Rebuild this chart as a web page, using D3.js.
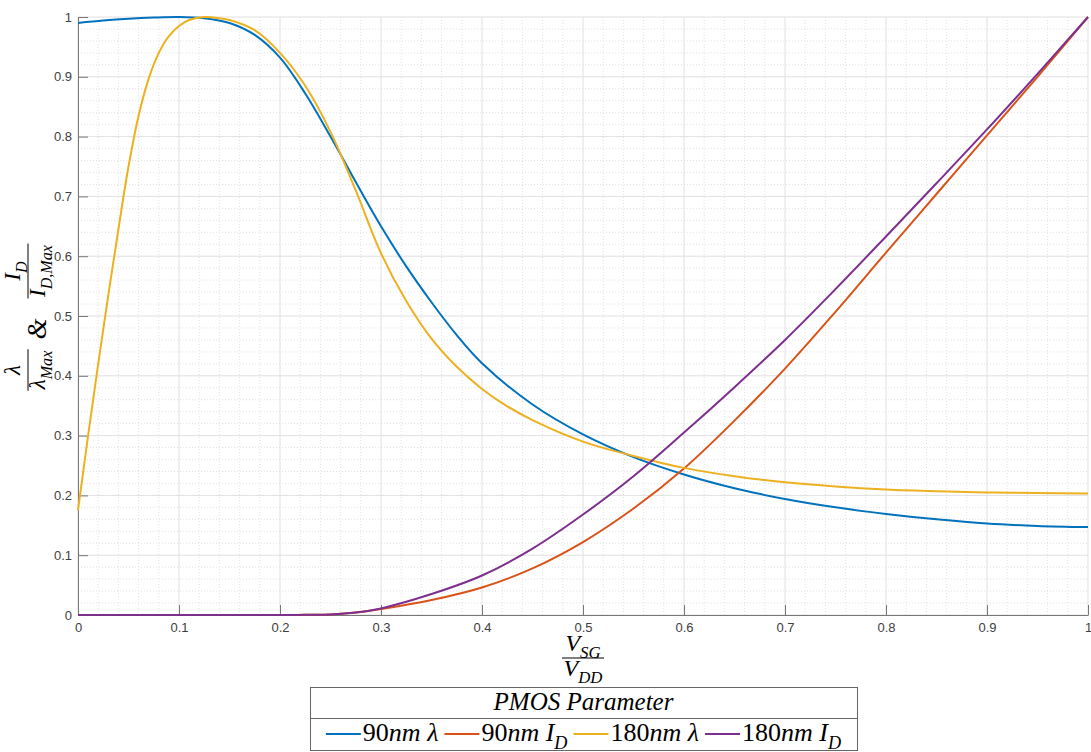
<!doctype html>
<html lang="en">
<head>
<meta charset="utf-8">
<title>PMOS Parameter</title>
<script src="https://cdn.jsdelivr.net/npm/d3@7"></script>
<style>
  body { margin: 0; background: #fff; }
  .tick text { font: 13px "Liberation Sans", Arial, sans-serif; fill: #404040; }
  .math { font-family: "Liberation Serif", "DejaVu Serif", serif; fill: #000; }
</style>
</head>
<body>
<svg width="1091" height="752"></svg>
<script>
// tick values
var xTicks = [0, 0.1, 0.2, 0.3, 0.4, 0.5, 0.6, 0.7, 0.8, 0.9, 1];
var yTicks = [0, 0.1, 0.2, 0.3, 0.4, 0.5, 0.6, 0.7, 0.8, 0.9, 1];

// 90nm lambda (normalised)
var x90L = [0, 0.025, 0.05, 0.075, 0.1, 0.125, 0.15, 0.175, 0.2, 0.225, 0.25, 0.275, 0.3, 0.325, 0.35, 0.375, 0.4, 0.45, 0.5, 0.55, 0.6, 0.65, 0.7, 0.75, 0.8, 0.85, 0.9, 0.95, 1];
var y90L = [0.99, 0.994, 0.997, 0.999, 1.0, 0.998, 0.99, 0.97, 0.932, 0.872, 0.80, 0.724, 0.65, 0.583, 0.523, 0.468, 0.421, 0.352, 0.302, 0.264, 0.235, 0.212, 0.194, 0.180, 0.169, 0.160, 0.153, 0.149, 0.147];

// 180nm lambda (normalised)
var x180L = [0, 0.01, 0.02, 0.03, 0.04, 0.05, 0.06, 0.07, 0.08, 0.09, 0.1, 0.11, 0.125, 0.14, 0.15, 0.175, 0.2, 0.225, 0.25, 0.275, 0.3, 0.325, 0.35, 0.375, 0.4, 0.425, 0.45, 0.5, 0.55, 0.6, 0.65, 0.7, 0.75, 0.8, 0.85, 0.9, 0.95, 1];
var y180L = [0.175, 0.30, 0.42, 0.535, 0.645, 0.75, 0.835, 0.897, 0.94, 0.968, 0.985, 0.995, 1.0, 0.998, 0.995, 0.978, 0.94, 0.885, 0.808, 0.71, 0.605, 0.525, 0.462, 0.415, 0.378, 0.349, 0.326, 0.29, 0.266, 0.246, 0.232, 0.222, 0.215, 0.210, 0.207, 0.205, 0.204, 0.203];

// 90nm drain current (normalised)
var x90I = [0, 0.1, 0.2, 0.225, 0.25, 0.275, 0.3, 0.35, 0.4, 0.45, 0.5, 0.55, 0.6, 0.65, 0.7, 0.75, 0.8, 0.85, 0.9, 0.95, 1];
var y90I = [0, 0, 0, 0.0003, 0.001, 0.004, 0.01, 0.025, 0.046, 0.078, 0.122, 0.178, 0.245, 0.325, 0.412, 0.507, 0.606, 0.704, 0.802, 0.90, 1.0];

// 180nm drain current (normalised)
var x180I = [0, 0.1, 0.2, 0.225, 0.25, 0.275, 0.3, 0.35, 0.4, 0.45, 0.5, 0.55, 0.6, 0.65, 0.7, 0.75, 0.8, 0.85, 0.9, 0.95, 1];
var y180I = [0, 0, 0, 0.0003, 0.001, 0.004, 0.011, 0.035, 0.066, 0.111, 0.168, 0.232, 0.305, 0.381, 0.460, 0.545, 0.633, 0.722, 0.812, 0.905, 1.0];

var series = [
  { name: [["90", "r"], ["nm", "i"], [" \u03bb", "i"]], color: "#0072BD", xs: x90L, ys: y90L },
  { name: [["90", "r"], ["nm", "i"], [" I", "i"], ["D", "s"]], color: "#D95319", xs: x90I, ys: y90I },
  { name: [["180", "r"], ["nm", "i"], [" \u03bb", "i"]], color: "#EDB120", xs: x180L, ys: y180L },
  { name: [["180", "r"], ["nm", "i"], [" I", "i"], ["D", "s"]], color: "#7E2F8E", xs: x180I, ys: y180I }
];

(function () {
  var svg = d3.select("svg"),
    mLeft = 78, mRight = 1088, mTop = 17, mBottom = 615;

  var x = d3.scaleLinear().domain([0, 1]).range([mLeft, mRight]);
  var y = d3.scaleLinear().domain([0, 1]).range([mBottom, mTop]);

  // grid: minor dotted, major solid
  var minor = d3.range(0, 51).map(function (i) { return i / 50; }).filter(function (v, i) { return i % 5 !== 0; });
  var grid = svg.append("g");
  grid.selectAll(".mx").data(minor).enter().append("line")
    .attr("x1", function (d) { return x(d); }).attr("x2", function (d) { return x(d); })
    .attr("y1", mTop).attr("y2", mBottom)
    .attr("stroke", "#e2e2e2").attr("stroke-dasharray", "1,2");
  grid.selectAll(".my").data(minor).enter().append("line")
    .attr("y1", function (d) { return y(d); }).attr("y2", function (d) { return y(d); })
    .attr("x1", mLeft).attr("x2", mRight)
    .attr("stroke", "#e2e2e2").attr("stroke-dasharray", "1,2");
  grid.selectAll(".Mx").data(xTicks).enter().append("line")
    .attr("x1", function (d) { return x(d); }).attr("x2", function (d) { return x(d); })
    .attr("y1", mTop).attr("y2", mBottom)
    .attr("stroke", "#e0e0e0");
  grid.selectAll(".My").data(yTicks).enter().append("line")
    .attr("y1", function (d) { return y(d); }).attr("y2", function (d) { return y(d); })
    .attr("x1", mLeft).attr("x2", mRight)
    .attr("stroke", "#e0e0e0");

  // axes, ticks pointing inward
  var fmt = d3.format("~g");
  svg.append("g").attr("transform", "translate(0," + mBottom + ")")
    .call(d3.axisBottom(x).tickValues(xTicks).tickFormat(fmt).tickSizeInner(-10).tickSizeOuter(0).tickPadding(8))
    .call(function (g) { g.selectAll("line,path").attr("stroke", "#777"); });
  svg.append("g").attr("transform", "translate(" + mLeft + ",0)")
    .call(d3.axisLeft(y).tickValues(yTicks).tickFormat(fmt).tickSizeInner(-10).tickSizeOuter(0).tickPadding(6))
    .call(function (g) { g.selectAll("line,path").attr("stroke", "#777"); });

  // curves
  var line = d3.line()
    .x(function (d) { return x(d[0]); })
    .y(function (d) { return y(d[1]); })
    .curve(d3.curveCatmullRom.alpha(0.5));

  series.forEach(function (s) {
    var pts = s.xs.map(function (v, i) { return [v, s.ys[i]]; });
    svg.append("path").datum(pts)
      .attr("d", line)
      .attr("fill", "none")
      .attr("stroke", s.color)
      .attr("stroke-width", 2);
  });

  // math-ish text helper: parts are [text, "r"|"i"|"s"]
  function mathText(g, parts, size) {
    var t = g.append("text").attr("class", "math").style("font-size", size + "px");
    var shift = 0;
    parts.forEach(function (p) {
      var sub = p[1] === "s";
      var want = sub ? size * 0.3 : 0;
      t.append("tspan").text(p[0])
        .attr("dy", want - shift)
        .style("font-style", p[1] === "r" ? "normal" : "italic")
        .style("font-size", sub ? size * 0.7 + "px" : null);
      shift = want;
    });
    return t;
  }

  function frac(g, cx, barY, num, den, size, nOff, dOff) {
    var n = mathText(g, num, size).attr("text-anchor", "middle").attr("x", cx).attr("y", barY - nOff);
    var d = mathText(g, den, size).attr("text-anchor", "middle").attr("x", cx).attr("y", barY + dOff);
    var w = Math.max(n.node().getComputedTextLength(), d.node().getComputedTextLength()) + 3;
    g.append("line").attr("x1", cx - w / 2).attr("x2", cx + w / 2)
      .attr("y1", barY).attr("y2", barY).attr("stroke", "#000").attr("stroke-width", 1);
  }

  // x label
  frac(svg, (mLeft + mRight) / 2, 658, [["V", "i"], ["SG", "s"]], [["V", "i"], ["DD", "s"]], 24, 7, 18);

  // y label (rotated)
  var yl = svg.append("g").attr("transform", "translate(28,316) rotate(-90)");
  frac(yl, 45, 0, [["I", "i"], ["D", "s"]], [["I", "i"], ["D,Max", "s"]], 23, 8, 17);
  mathText(yl, [["&", "i"]], 27).attr("text-anchor", "middle").attr("x", -13).attr("y", 18);
  frac(yl, -54, 0, [["\u03bb", "i"]], [["\u03bb", "i"], ["Max", "s"]], 23, 8, 17);

  // legend
  var lg = svg.append("g");
  var lx0 = 310, lx1 = 857, ly0 = 687, ly1 = 750, lsep = 718;
  lg.append("rect").attr("x", lx0 + 0.5).attr("y", ly0 + 0.5)
    .attr("width", lx1 - lx0).attr("height", ly1 - ly0)
    .attr("fill", "#fff").attr("stroke", "#666");
  lg.append("line").attr("x1", lx0).attr("x2", lx1 + 1).attr("y1", lsep + 0.5).attr("y2", lsep + 0.5).attr("stroke", "#666");
  mathText(lg, [["PMOS Parameter", "i"]], 25).attr("text-anchor", "middle").attr("x", (lx0 + lx1) / 2).attr("y", 710);

  var items = lg.append("g");
  var cur = 0;
  series.forEach(function (s) {
    items.append("line").attr("x1", cur).attr("x2", cur + 35).attr("y1", 734).attr("y2", 734)
      .attr("stroke", s.color).attr("stroke-width", 2);
    var t = mathText(items, s.name, 26).attr("x", cur + 37).attr("y", 741);
    cur += 37 + t.node().getComputedTextLength() + 6;
  });
  cur -= 6;
  items.attr("transform", "translate(" + ((lx0 + lx1) / 2 - cur / 2) + ",0)");
})();
</script>
</body>
</html>
